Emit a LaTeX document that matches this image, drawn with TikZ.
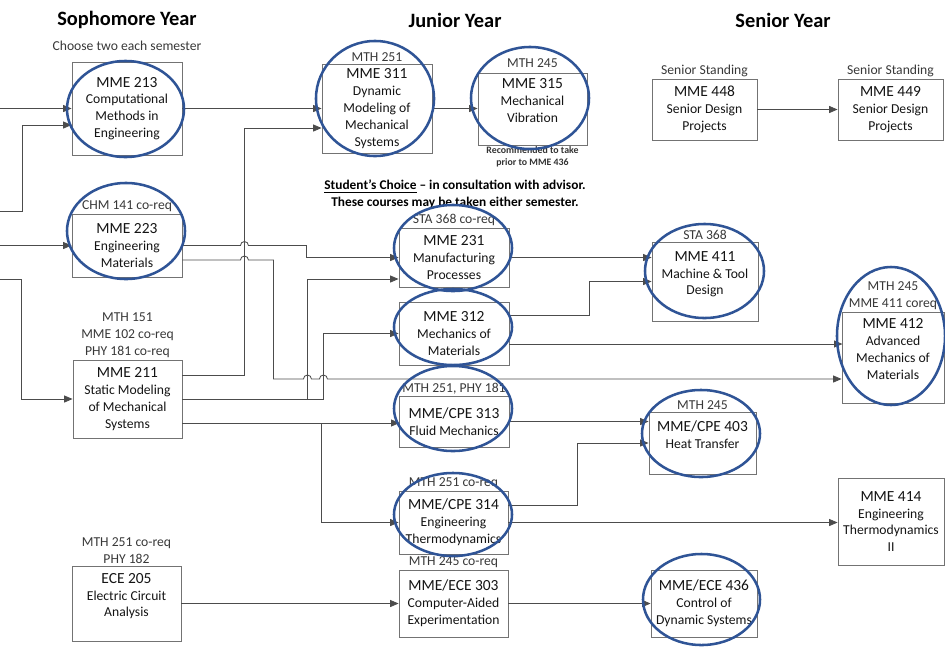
\documentclass[tikz,border=0pt]{standalone}
\usepackage{fontspec}
\setmainfont{Carlito}
\usetikzlibrary{arrows.meta,positioning,calc}

\definecolor{ringblue}{RGB}{47,84,150}
\newcommand{\ctitle}[1]{{\fontsize{11}{12}\selectfont #1}\\}

\begin{document}
\begin{tikzpicture}[x=0.025cm,y=-0.025cm,
	course/.style={draw=black!55,line width=0.6pt,align=center,inner sep=0pt,text=black!92,font=\fontsize{9.7}{12}\selectfont},
	pre/.style={align=center,inner sep=1pt,text=black!78,font=\fontsize{9.7}{12}\selectfont},
	year/.style={font=\fontsize{14.5}{16}\selectfont\bfseries,text=black},
	link/.style={draw=black!70,line width=0.6pt},
	arr/.style={link,-{Triangle[length=6pt,width=5pt]}},
	ring/.style={draw=ringblue,line width=1.8pt}]
	\useasboundingbox (0,0) rectangle (945,646);
	% headings
	\node[year] (ysoph) at (127,20) {Sophomore Year};
	\node[year] (yjun) at (455,20) {Junior Year};
	\node[year] (ysen) at (783,20) {Senior Year};
	\node[pre] (choose) at (127,46) {Choose two each semester};
	\node[align=center,inner sep=0pt,font=\fontsize{9.5}{12}\selectfont\bfseries] (choice) at (455,194.5) {\underline{Student’s Choice} – in consultation with advisor.\\These courses may be taken either semester.};
	% sophomore year
	\node[course,minimum width=2.75cm,minimum height=2.325cm] (b213) at (127,108.5) {\ctitle{MME 213}Computational\\Methods in\\Engineering};
	\node[course,minimum width=2.75cm,minimum height=1.575cm] (b223) at (127,245.5) {\ctitle{MME 223}Engineering\\Materials};
	\node[pre,above=0pt of b223] (p223) {CHM 141 co-req};
	\node[course,minimum width=2.725cm,minimum height=1.95cm] (b211) at (127.5,399) {\ctitle{MME 211}Static Modeling\\of Mechanical\\Systems};
	\node[pre,above=0pt of b211] (p211) {MTH 151\\MME 102 co-req\\PHY 181 co-req};
	\node[course,minimum width=2.725cm,minimum height=1.875cm] (b205) at (126.5,603.5) {\ctitle{ECE 205}Electric Circuit\\Analysis\\\mbox{}};
	\node[pre,above=0pt of b205] (p205) {MTH 251 co-req\\PHY 182};
	% junior year
	\node[course,minimum width=2.75cm,minimum height=2.225cm] (b311) at (377,108.5) {\ctitle{MME 311}Dynamic\\Modeling of\\Mechanical\\Systems};
	\node[pre,above=0pt of b311] (p311) {MTH 251};
	\node[course,minimum width=2.725cm,minimum height=1.8cm] (b315) at (532.5,109) {\ctitle{MME 315}Mechanical\\Vibration\\\mbox{}};
	\node[pre,above=2pt of b315] (p315) {MTH 245};
	\node[align=center,inner sep=0.5pt,below=0pt of b315,font=\fontsize{7}{9}\selectfont\bfseries,text=black!80] (n315) {Recommended to take\\prior to MME 436};
	\node[course,minimum width=2.75cm,minimum height=1.475cm] (b231) at (454,257.5) {\ctitle{MME 231}Manufacturing\\Processes};
	\node[pre,above=0pt of b231] (p231) {STA 368 co-req};
	\node[course,minimum width=2.75cm,minimum height=1.575cm] (b312) at (454,333.5) {\ctitle{MME 312}Mechanics of\\Materials};
	\node[course,minimum width=2.75cm,minimum height=1.275cm] (b313) at (454,421.5) {\ctitle{MME/CPE 313}Fluid Mechanics};
	\node[pre,above=0pt of b313] (p313) {MTH 251, PHY 181};
	\node[course,minimum width=2.725cm,minimum height=1.575cm] (b314) at (453.5,522.5) {\ctitle{MME/CPE 314}Engineering\\Thermodynamics};
	\node[pre,above=0pt of b314] (p314) {MTH 251 co-req};
	\node[course,minimum width=2.725cm,minimum height=1.675cm] (b303) at (453.5,603.5) {\ctitle{MME/ECE 303}Computer-Aided\\Experimentation};
	\node[pre,above=0pt of b303] (p303) {MTH 245 co-req};
	% senior year
	\node[course,minimum width=2.625cm,minimum height=1.525cm] (b448) at (704.5,109.5) {\ctitle{MME 448}Senior Design\\Projects};
	\node[pre,above=0pt of b448] (p448) {Senior Standing};
	\node[course,minimum width=2.625cm,minimum height=1.525cm] (b449) at (890.5,109.5) {\ctitle{MME 449}Senior Design\\Projects};
	\node[pre,above=0pt of b449] (p449) {Senior Standing};
	\node[course,minimum width=2.65cm,minimum height=1.975cm] (b411) at (705,281.5) {\ctitle{MME 411}Machine \& Tool\\Design\\\mbox{}};
	\node[pre,above=0pt of b411] (p411) {STA 368};
	\node[course,minimum width=2.55cm,minimum height=2.275cm] (b412) at (893,357.5) {\ctitle{MME 412}Advanced\\Mechanics of\\Materials\\\mbox{}};
	\node[pre,above=0pt of b412] (p412) {MTH 245\\MME 411 coreq};
	\node[course,minimum width=2.675cm,minimum height=1.55cm] (b403) at (702.5,443) {\ctitle{MME/CPE 403}Heat Transfer\\\mbox{}};
	\node[pre,above=0pt of b403] (p403) {MTH 245};
	\node[course,minimum width=2.65cm,minimum height=2.175cm] (b414) at (891,521.5) {\ctitle{MME 414}Engineering\\Thermodynamics\\II};
	\node[course,minimum width=2.65cm,minimum height=1.675cm] (b436) at (704,603.5) {\ctitle{MME/ECE 436}Control of\\Dynamic Systems};
	% inputs from the left
	\coordinate (l1) at (0,108.5);
	\coordinate (l2) at (0,211);
	\coordinate (l3) at (0,245.5);
	\coordinate (l4) at (0,279);
	\draw[arr] (l1) -- (b213.west);
	\draw[arr] (l2) -- ++(22,0) |- ($(b213.west)+(0,16.5)$);
	\draw[arr] (l3) -- (b223.west);
	\draw[arr] (l4) -- ++(21,0) |- (b211.west);
	% prerequisites
	\draw[arr] (b213.east) -- (b213.east -| b311.west);
	\draw[arr] ($(b211.east)+(0,-24)$) -- ++(62,0) |- ($(b311.west)+(0,19.5)$);
	\draw[arr] (b311.east) -- (b311.east -| b315.west);
	\draw[arr] (b223.east) -- ++(58,0) arc[start angle=180,end angle=0,radius=2.845pt] -- ++(58,0) |- (b231.west);
	\draw[arr] ($(b223.east)+(0,14.5)$) -- ++(58,0) arc[start angle=180,end angle=0,radius=2.845pt] -- ++(25,0) -- ++(0,119) -- ++(30,0) arc[start angle=180,end angle=0,radius=2.845pt] -- ++(8,0) arc[start angle=180,end angle=0,radius=2.845pt] -- ($(b412.west)+(0,21.5)$);
	\draw[arr] (b211.east) -- ++(125,0) |- ($(b231.west)+(0,21.5)$);
	\draw[arr] (b211.east) -- ++(141,0) |- (b312.west);
	\draw[arr] ($(b211.east)+(0,24)$) -- ++(217,0);
	\draw[arr] ($(b211.east)+(0,24)$) -- ++(139,0) |- (b314.west);
	\draw[arr] (b205.east) -- (b303.west);
	\draw[arr] (b303.east) -- (b436.west);
	\draw[arr] (b231.east) -- (b231.east -| b411.west);
	\draw[arr] ($(b312.east)+(0,-18.5)$) -- ++(80,0) |- (b411.west);
	\draw[arr] ($(b312.east)+(0,10.5)$) -- ++(333,0);
	\draw[arr] (b313.east) -- (b313.east -| b403.west);
	\draw[arr] ($(b314.east)+(0,-17.5)$) -- ++(69,0) |- (b403.west);
	\draw[arr] (b314.east) -- (b314.east -| b414.west);
	\draw[arr] (b448.east) -- (b449.west);
	% circled courses
	\draw[ring] (125.5,109) ellipse[x radius=1.4625cm,y radius=1.2cm];
	\draw[ring] (126,231) ellipse[x radius=1.475cm,y radius=1.2cm];
	\draw[ring] (375,98.5) ellipse[x radius=1.475cm,y radius=1.4375cm];
	\draw[ring] (530,98) ellipse[x radius=1.475cm,y radius=1.275cm];
	\draw[ring] (453,248) ellipse[x radius=1.475cm,y radius=1.075cm];
	\draw[ring] (453,327) ellipse[x radius=1.475cm,y radius=0.95cm];
	\draw[ring] (453,408.5) ellipse[x radius=1.475cm,y radius=1.0625cm];
	\draw[ring] (453,514.5) ellipse[x radius=1.475cm,y radius=1.0375cm];
	\draw[ring] (704.5,271) ellipse[x radius=1.4875cm,y radius=1.175cm];
	\draw[ring] (701,433.5) ellipse[x radius=1.475cm,y radius=1.0875cm];
	\draw[ring] (701.5,599.5) ellipse[x radius=1.4625cm,y radius=1.1375cm];
	\draw[ring] (891,336) ellipse[x radius=1.35cm,y radius=1.725cm];
\end{tikzpicture}
\end{document}
